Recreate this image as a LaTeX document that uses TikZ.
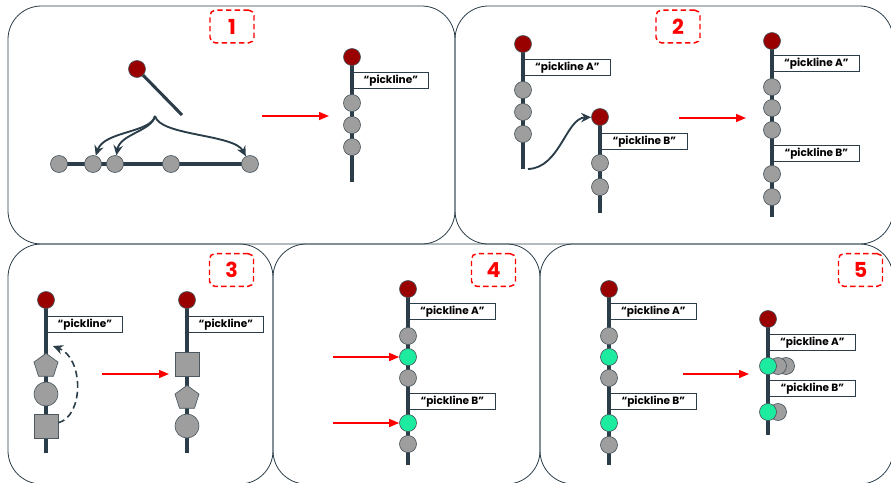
\documentclass[tikz,border=0pt]{standalone}
\usepackage{fontspec}
\setmainfont{Poppins}
\usepackage{tikz}
\usetikzlibrary{arrows.meta, positioning, shapes.geometric, backgrounds}

\definecolor{spinecol}{RGB}{42,61,73}
\definecolor{headred}{RGB}{153,0,0}
\definecolor{beadgray}{RGB}{158,158,158}
\definecolor{beadedge}{RGB}{75,88,96}
\definecolor{hitgreen}{RGB}{29,236,160}

\begin{document}
\begin{tikzpicture}[x=0.75pt,y=0.75pt,yscale=-1,xscale=1,
  panel/.style={draw=spinecol, line width=0.6pt, rounded corners=25pt},
  numbox/.style={draw=red, dash pattern=on 4pt off 2.5pt, line width=1.1pt, rounded corners=4pt,
    minimum width=33pt, minimum height=24.5pt, inner sep=0pt, text=red,
    font=\fontsize{15.5}{15.5}\selectfont\bfseries},
  bead/.style={circle, draw=beadedge, fill=beadgray, line width=0.5pt, minimum size=12.75pt, inner sep=0pt},
  head/.style={bead, fill=headred},
  hit/.style={bead, fill=hitgreen},
  bigbead/.style={bead, minimum size=18pt},
  penta/.style={regular polygon, regular polygon sides=5, draw=beadedge, fill=beadgray, line width=0.5pt, minimum size=19pt, inner sep=0pt},
  block/.style={rectangle, draw=beadedge, fill=beadgray, line width=0.5pt, minimum size=18pt, inner sep=0pt},
  spine/.style={draw=spinecol, line width=2.3pt},
  tag/.style={draw=spinecol, fill=white, line width=0.5pt, anchor=north west, inner sep=0pt,
    minimum width=#1, minimum height=12pt, font=\fontsize{7.9}{8}\selectfont\bfseries},
  tag/.default=64.5pt,
  move/.style={-{Stealth[length=7.5pt,width=7pt]}, draw=spinecol, line width=1.4pt},
  redarrow/.style={-{Triangle[length=7.5pt,width=6pt]}, draw=red, line width=1.1pt},
]
\useasboundingbox (0,0) rectangle (891,482);

% panels
\draw[panel] (8,6) rectangle (455,244);
\draw[panel] (455,6) rectangle (893,244);
\draw[panel] (8,244) rectangle (273,484);
\draw[panel] (273,244) rectangle (540,484);
\draw[panel] (540,244) rectangle (893,484);

% step numbers
\node[numbox] (n1) at (232,26.5) {1};
\node[numbox] (n2) at (678,26.5) {2};
\node[numbox] (n3) at (231.5,270) {3};
\node[numbox] (n4) at (493.5,270) {4};
\node[numbox] (n5) at (860.5,270) {5};

%% Panel 1
\node[head] (p1h) at (137,69) {};
\coordinate (p1t) at (182,115);
\draw[spine] (p1h) -- (p1t);
\coordinate (p1fork) at (155,116);
\foreach \name/\px in {a/59,b/93,c/115,d/171,e/250}
  \node[bead] (p1\name) at (\px,164) {};
\draw[move] (p1fork) .. controls (151,133) and (104,131) .. (p1b);
\draw[move] (p1fork) .. controls (152,131) and (120,134) .. (p1c);
\draw[move] (p1fork) .. controls (160,136) and (234,134) .. (p1e);

\coordinate (p1go) at (262,116);
\coordinate (p1to) at (329,116);
\draw[redarrow] (p1go) -- (p1to);

\node[head] (q1h) at (352,57) {};
\node[tag=56.25pt] (q1tag) at (353,72) {“pickline”};
\foreach \name/\py in {a/103,b/125,c/147}
  \node[bead] (q1\name) at (352,\py) {};
\coordinate (q1end) at (352,182);

%% Panel 2
\node[head] (p2ah) at (523,44) {};
\node[tag] (p2atag) at (524,59) {“pickline A”};
\foreach \name/\py in {a/90,b/112,c/134}
  \node[bead] (p2a\name) at (523,\py) {};
\coordinate (p2aend) at (523,169);

\node[head] (p2bh) at (600,117) {};
\node[tag] (p2btag) at (601,133) {“pickline B”};
\foreach \name/\py in {a/163,b/187}
  \node[bead] (p2b\name) at (600,\py) {};
\coordinate (p2bend) at (600,213);

\coordinate (p2from) at (528,169);
\draw[move] (p2from) .. controls (560,168) and (566,118) .. (p2bh);

\coordinate (p2go) at (679,118);
\coordinate (p2to) at (746,118);
\draw[redarrow] (p2go) -- (p2to);

\node[head] (q2h) at (772,41) {};
\node[tag] (q2atag) at (773,55) {“pickline A”};
\foreach \name/\py in {a/87,b/108,c/130}
  \node[bead] (q2\name) at (772,\py) {};
\node[tag] (q2btag) at (773,145) {“pickline B”};
\foreach \name/\py in {d/174,e/197}
  \node[bead] (q2\name) at (772,\py) {};
\coordinate (q2end) at (772,217);

%% Panel 3
\node[head] (p3h) at (46,300) {};
\node[tag=56.25pt] (p3tag) at (47,316) {“pickline”};
\node[penta] (p3pent) at (46,366) {};
\node[bigbead] (p3circ) at (46,394) {};
\node[block] (p3sq) at (46,426) {};
\coordinate (p3end) at (46,453);
\coordinate (p3back) at (53,346);
\draw[move, dash pattern=on 5pt off 3pt, line width=1.2pt] (p3sq) .. controls (84,416) and (84,358) .. (p3back);

\coordinate (p3go) at (102,374);
\coordinate (p3to) at (169,374);
\draw[redarrow] (p3go) -- (p3to);

\node[head] (q3h) at (187,300) {};
\node[tag=56.25pt] (q3tag) at (188,316) {“pickline”};
\node[block] (q3sq) at (187,364) {};
\node[penta] (q3pent) at (187,398) {};
\node[bigbead] (q3circ) at (187,426) {};
\coordinate (q3end) at (187,453);

%% Panel 4
\node[head] (p4h) at (408,289) {};
\node[tag] (p4atag) at (409,303) {“pickline A”};
\node[bead] (p4a) at (408,336) {};
\node[hit] (p4g1) at (408,357) {};
\node[bead] (p4b) at (408,378) {};
\node[tag] (p4btag) at (409,393) {“pickline B”};
\node[hit] (p4g2) at (408,423) {};
\node[bead] (p4c) at (408,444) {};
\coordinate (p4end) at (408,465);
\coordinate (p4in1) at (333,357);
\coordinate (p4in2) at (333,423);
\draw[redarrow] (p4in1) -- (p4g1);
\draw[redarrow] (p4in2) -- (p4g2);

%% Panel 5
\node[head] (p5h) at (609,289) {};
\node[tag] (p5atag) at (610,303) {“pickline A”};
\node[bead] (p5a) at (609,336) {};
\node[hit] (p5g1) at (609,357) {};
\node[bead] (p5b) at (609,378) {};
\node[tag] (p5btag) at (610,393) {“pickline B”};
\node[hit] (p5g2) at (609,423) {};
\node[bead] (p5c) at (609,445) {};
\coordinate (p5end) at (609,465);

\coordinate (p5go) at (683,374);
\coordinate (p5to) at (749,374);
\draw[redarrow] (p5go) -- (p5to);

\node[head] (q5h) at (768,319) {};
\node[tag] (q5atag) at (769,334) {“pickline A”};
\node[bead] (q5x2) at (786,366) {};
\node[bead] (q5x1) at (778,366) {};
\node[hit] (q5g1) at (768,366) {};
\node[tag] (q5btag) at (769,380) {“pickline B”};
\node[bead] (q5y1) at (778,412) {};
\node[hit] (q5g2) at (768,412) {};
\coordinate (q5end) at (768,435);

% spines behind the beads
\begin{scope}[on background layer]
  \draw[spine] (p1a.center) -- (p1e.center);
  \draw[spine] (q1h.center) -- (q1end);
  \draw[spine] (p2ah.center) -- (p2aend);
  \draw[spine] (p2bh.center) -- (p2bend);
  \draw[spine] (q2h.center) -- (q2end);
  \draw[spine] (p3h.center) -- (p3end);
  \draw[spine] (q3h.center) -- (q3end);
  \draw[spine] (p4h.center) -- (p4end);
  \draw[spine] (p5h.center) -- (p5end);
  \draw[spine] (q5h.center) -- (q5end);
\end{scope}

\end{tikzpicture}
\end{document}
